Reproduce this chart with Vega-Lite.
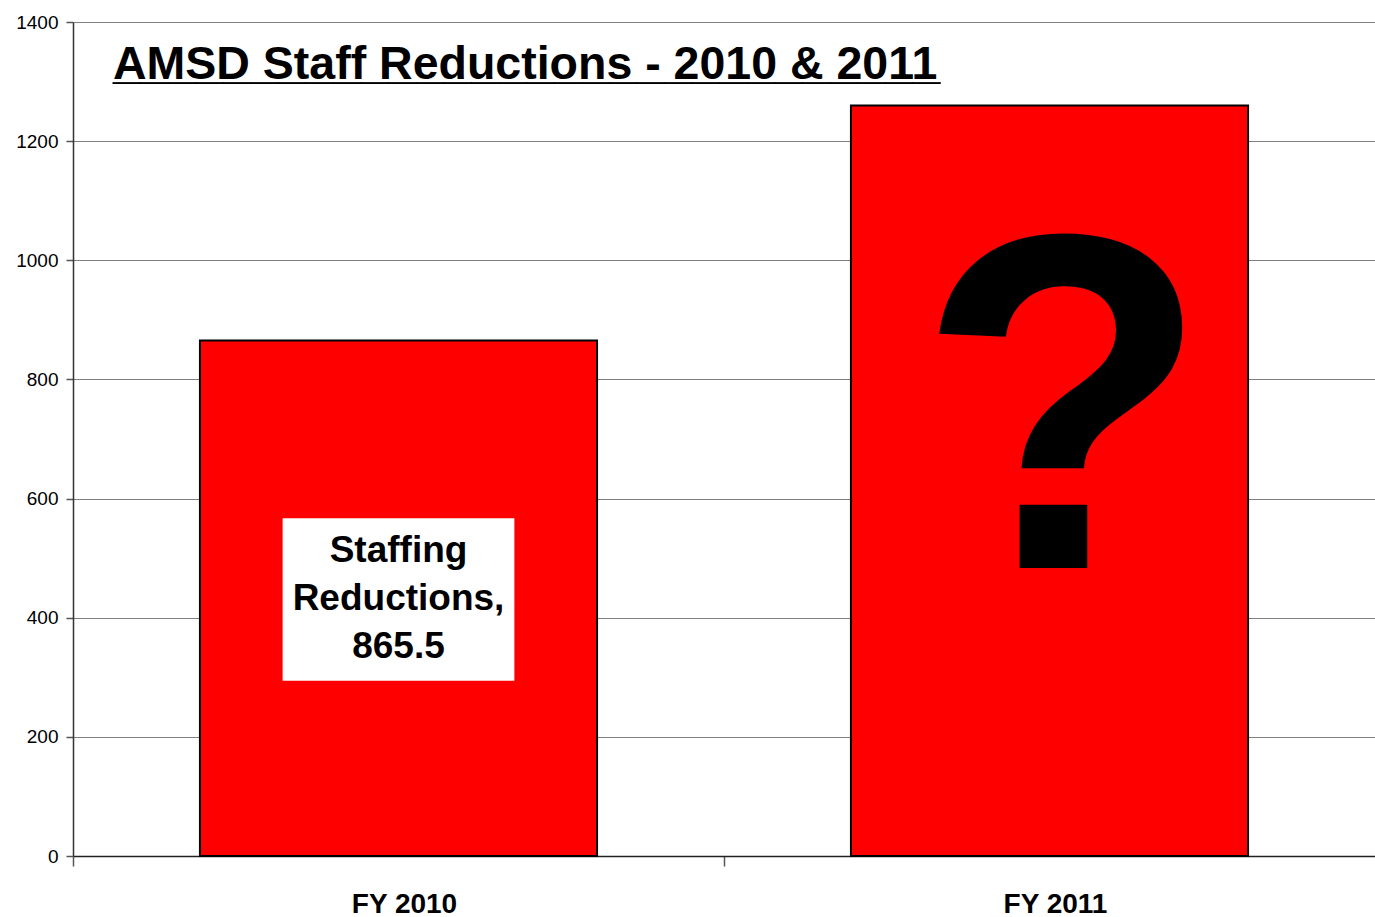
{
  "$schema": "https://vega.github.io/schema/vega-lite/v6.json",
  "width": 1302,
  "height": 834,
  "autosize": {"type": "none"},
  "padding": {"left": 73, "top": 22, "right": 0, "bottom": 61},
  "background": "white",
  "config": {
    "view": {"stroke": null},
    "font": "Liberation Sans"
  },
  "title": {
    "text": "AMSD Staff Reductions - 2010 & 2011",
    "subtitle": "______________________________",
    "anchor": "start",
    "frame": "group",
    "orient": "top",
    "dx": 40,
    "offset": -117,
    "font": "Liberation Sans",
    "fontSize": 46.5,
    "fontWeight": "bold",
    "color": "black",
    "baseline": "alphabetic",
    "subtitleFont": "Liberation Sans",
    "subtitleFontSize": 49.6,
    "subtitleFontWeight": "bold",
    "subtitleColor": "black",
    "subtitlePadding": -48
  },
  "data": {
    "values": [
      {"year": "FY 2010", "value": 865.5},
      {"year": "FY 2011", "value": 1260}
    ]
  },
  "encoding": {
    "x": {
      "field": "year",
      "type": "nominal",
      "scale": {"paddingInner": 0, "paddingOuter": 0},
      "axis": {
        "title": null,
        "labelAngle": 0,
        "bandPosition": 0,
        "labelOffset": 6,
        "labelFont": "Liberation Sans",
        "labelFontSize": 28,
        "labelFontWeight": "bold",
        "labelColor": "black",
        "labelPadding": 24,
        "tickSize": 10,
        "tickColor": "#555555",
        "tickWidth": 1.5,
        "domainColor": "#222222",
        "domainWidth": 1.5,
        "grid": false
      }
    }
  },
  "layer": [
    {
      "mark": {"type": "bar", "width": {"band": 0.61}, "fill": "#FF0000", "stroke": "black", "strokeWidth": 2},
      "encoding": {
        "y": {
          "field": "value",
          "type": "quantitative",
          "scale": {"domain": [0, 1400], "nice": false},
          "axis": {
            "title": null,
            "format": "d",
            "values": [0, 200, 400, 600, 800, 1000, 1200, 1400],
            "labelFont": "Liberation Sans",
            "labelFontSize": 19,
            "labelColor": "black",
            "labelPadding": 8,
            "tickSize": 7,
            "tickColor": "#555555",
            "tickWidth": 1.5,
            "domainColor": "#333333",
            "domainWidth": 1.5,
            "grid": true,
            "gridColor": "#808080",
            "gridWidth": 1.2,
            "gridOpacity": 1
          }
        }
      }
    },
    {
      "transform": [{"filter": "datum.year == 'FY 2010'"}],
      "mark": {"type": "bar", "width": {"band": 0.356}, "fill": "white", "stroke": null},
      "encoding": {
        "y": {"datum": 294, "type": "quantitative"},
        "y2": {"datum": 567}
      }
    },
    {
      "transform": [{"filter": "datum.year == 'FY 2010'"}],
      "mark": {
        "type": "text",
        "text": ["Staffing", "Reductions,", "865.5"],
        "font": "Liberation Sans",
        "fontSize": 37,
        "fontWeight": "bold",
        "lineHeight": 48,
        "align": "center",
        "baseline": "middle",
        "color": "black"
      },
      "encoding": {
        "y": {"datum": 512, "type": "quantitative"}
      }
    },
    {
      "transform": [{"filter": "datum.year == 'FY 2011'"}],
      "mark": {
        "type": "text",
        "text": "?",
        "font": "Liberation Sans",
        "fontSize": 479,
        "fontWeight": "bold",
        "align": "center",
        "baseline": "alphabetic",
        "dx": 14,
        "color": "black"
      },
      "encoding": {
        "y": {"datum": 483.5, "type": "quantitative"}
      }
    }
  ]
}
